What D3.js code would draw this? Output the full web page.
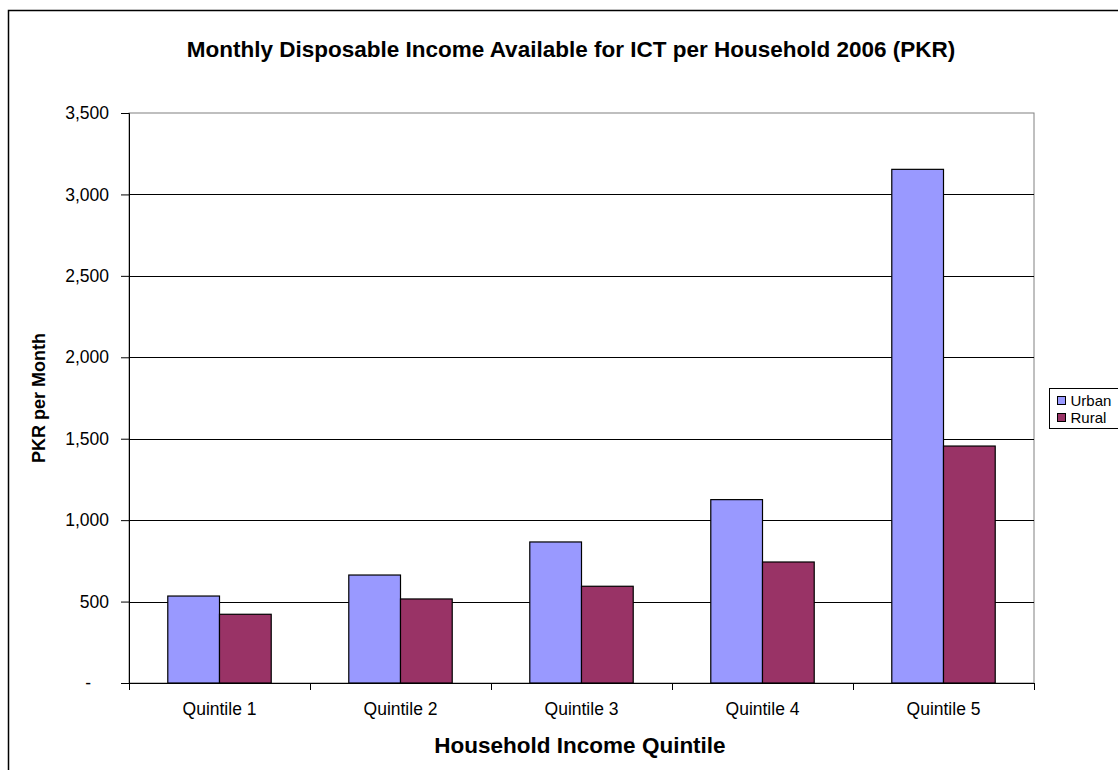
<!DOCTYPE html>
<html>
<head>
<meta charset="utf-8">
<script src="https://cdn.jsdelivr.net/npm/d3@7"></script>
<style>
  body { margin: 0; background: #fff; }
  svg { display: block; font-family: "Liberation Sans", Arial, sans-serif; }
</style>
</head>
<body>
<div id="chart"></div>
<script>
// chart data
var quintiles = ["Quintile 1", "Quintile 2", "Quintile 3", "Quintile 4", "Quintile 5"];
var seriesNames = ["Urban", "Rural"];
var urban = [534, 663, 866, 1126, 3154];
var rural = [422, 516, 594, 743, 1455];
var yTicks = [0, 500, 1000, 1500, 2000, 2500, 3000, 3500];
var colors = ["#9999ff", "#993366"];

var W = 1118, H = 770;
var margin = {top: 113, left: 129, right: 84, bottom: 87},
    width = W - margin.left - margin.right,
    height = H - margin.top - margin.bottom;

var svg = d3.select("#chart").append("svg")
    .attr("width", W)
    .attr("height", H);

// outer chart border (runs off the right/bottom edge like the original)
svg.append("rect")
    .attr("x", 8.5).attr("y", 10.5)
    .attr("width", 1300).attr("height", 900)
    .attr("fill", "#fff")
    .attr("stroke", "#000")
    .attr("stroke-width", 1.5);

svg.append("text")
    .attr("x", 571).attr("y", 57)
    .attr("text-anchor", "middle")
    .style("font-size", "22.5px")
    .style("font-weight", "bold")
    .text("Monthly Disposable Income Available for ICT per Household 2006 (PKR)");

var g = svg.append("g")
    .attr("transform", "translate(" + margin.left + "," + margin.top + ")");

var x0 = d3.scaleBand().domain(quintiles).range([0, width]).paddingInner(0).paddingOuter(0);
// gap width 150% => bars take 2/3.5 of each category
var x1 = d3.scaleBand().domain(seriesNames).range([x0.bandwidth() * 0.75 / 3.5, x0.bandwidth() * 2.75 / 3.5]);
var y = d3.scaleLinear().domain([0, 3500]).range([height, 0]);

// plot border top/right in grey
g.append("rect")
    .attr("x", 0).attr("y", 0)
    .attr("width", width).attr("height", height)
    .attr("fill", "none")
    .attr("stroke", "#808080");

// gridlines
g.selectAll(".grid")
    .data(yTicks.filter(function(d) { return d > 0 && d < 3500; }))
  .enter().append("line")
    .attr("class", "grid")
    .attr("x1", 0).attr("x2", width)
    .attr("y1", function(d) { return Math.round(y(d)) + 0.5; })
    .attr("y2", function(d) { return Math.round(y(d)) + 0.5; })
    .attr("stroke", "#000");

// bars
var data = quintiles.map(function(q, i) { return {q: q, vals: [urban[i], rural[i]]}; });
var groups = g.selectAll(".grp")
    .data(data)
  .enter().append("g")
    .attr("transform", function(d) { return "translate(" + x0(d.q) + ",0)"; });

groups.selectAll("rect")
    .data(function(d) { return d.vals.map(function(v, j) { return {name: seriesNames[j], v: v, j: j}; }); })
  .enter().append("rect")
    .attr("x", function(d) { return x1(d.name); })
    .attr("y", function(d) { return y(d.v); })
    .attr("width", x1.bandwidth())
    .attr("height", function(d) { return height - y(d.v); })
    .attr("fill", function(d) { return colors[d.j]; })
    .attr("stroke", "#000")
    .attr("stroke-width", 1.2);

// y axis
var yAxis = g.append("g")
    .call(d3.axisLeft(y).tickValues(yTicks).tickSize(8).tickPadding(12)
      .tickFormat(function(d) { return d === 0 ? "-" : d3.format(",")(d); }));
yAxis.select(".domain").attr("stroke", "#000");
yAxis.selectAll("text").style("font-size", "17.5px").attr("fill", "#000");
yAxis.selectAll("text").filter(function(d) { return d === 0; }).attr("dx", "-18");

// x axis
var xAxis = g.append("g")
    .attr("transform", "translate(0," + height + ")")
    .call(d3.axisBottom(x0).tickSize(0).tickPadding(20));
xAxis.select(".domain").attr("stroke", "#000");
xAxis.selectAll("text").style("font-size", "17.5px").attr("fill", "#000");
xAxis.selectAll(".sep")
    .data(d3.range(quintiles.length + 1))
  .enter().append("line")
    .attr("class", "sep")
    .attr("x1", function(i) { return Math.round(i * x0.step()) + 0.5; })
    .attr("x2", function(i) { return Math.round(i * x0.step()) + 0.5; })
    .attr("y1", 0).attr("y2", 7)
    .attr("stroke", "#000");

// axis titles
svg.append("text")
    .attr("transform", "translate(45," + (margin.top + height / 2) + ") rotate(-90)")
    .attr("text-anchor", "middle")
    .style("font-size", "18px")
    .style("font-weight", "bold")
    .text("PKR per Month");

svg.append("text")
    .attr("x", 580).attr("y", 753)
    .attr("text-anchor", "middle")
    .style("font-size", "22.5px")
    .style("font-weight", "bold")
    .text("Household Income Quintile");

// legend
var legend = svg.append("g").attr("transform", "translate(1049.5,388.5)");
legend.append("rect")
    .attr("width", 120).attr("height", 40)
    .attr("fill", "#fff")
    .attr("stroke", "#000");
var items = legend.selectAll(".legend")
    .data(seriesNames)
  .enter().append("g")
    .attr("class", "legend")
    .attr("transform", function(d, i) { return "translate(0," + (i * 17) + ")"; });
items.append("rect")
    .attr("x", 8).attr("y", 8)
    .attr("width", 8).attr("height", 8)
    .attr("fill", function(d, i) { return colors[i]; })
    .attr("stroke", "#000");
items.append("text")
    .attr("x", 21).attr("y", 12)
    .attr("dy", ".35em")
    .style("font-size", "15px")
    .text(function(d) { return d; });
</script>
</body>
</html>
